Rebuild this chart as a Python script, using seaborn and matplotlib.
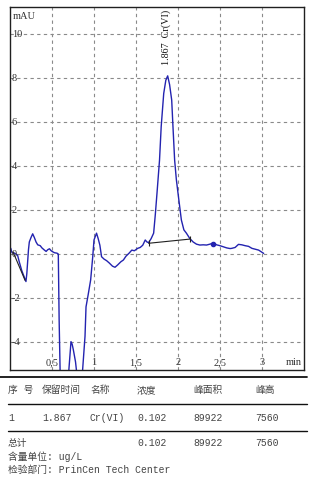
import numpy as np
import pandas as pd
import matplotlib
matplotlib.use("Agg")
import matplotlib.pyplot as plt
import matplotlib.transforms as mtransforms
from matplotlib.lines import Line2D
import seaborn as sns

# ---------------- data ----------------
time_min = [0.00, 0.01, 0.02, 0.03, 0.05, 0.07, 0.09, 0.11, 0.14, 0.17, 0.19, 0.20,
            0.22, 0.23, 0.25, 0.27, 0.29, 0.31, 0.33, 0.36, 0.38, 0.41, 0.43, 0.45,
            0.47, 0.49, 0.51, 0.53, 0.56, 0.575, 0.585, 0.60, 0.65, 0.69, 0.70, 0.726,
            0.74, 0.754, 0.78, 0.80, 0.83, 0.86, 0.893, 0.905, 0.93, 0.96, 0.985, 1.00,
            1.03, 1.05, 1.07, 1.09, 1.12, 1.15, 1.18, 1.22, 1.25, 1.28, 1.32, 1.35,
            1.38, 1.42, 1.45, 1.48, 1.52, 1.55, 1.58, 1.61, 1.63, 1.65, 1.68, 1.71,
            1.73, 1.75, 1.78, 1.80, 1.83, 1.855, 1.877, 1.90, 1.925, 1.94, 1.96, 1.98,
            2.00, 2.04, 2.07, 2.10, 2.14, 2.18, 2.22, 2.26, 2.30, 2.34, 2.38, 2.42,
            2.46, 2.50, 2.54, 2.58, 2.62, 2.64, 2.68, 2.72, 2.76, 2.80, 2.84, 2.88,
            2.92, 2.96, 3.00, 3.02]
signal_mau = [0.30, 0.25, 0.10, 0.05, 0.05, 0.00, -0.05, -0.35, -0.75, -1.05, -1.25, -0.90,
              0.20, 0.55, 0.75, 0.92, 0.75, 0.55, 0.42, 0.38, 0.28, 0.18, 0.12, 0.20,
              0.24, 0.15, 0.10, 0.06, 0.04, 0.00, -3.0, -6.0, -8.0, -6.0, -5.3, -3.98,
              -4.1, -4.35, -4.9, -5.6, -7.0, -5.5, -3.74, -2.4, -1.86, -1.18, -0.12, 0.64,
              0.95, 0.70, 0.40, -0.12, -0.23, -0.30, -0.40, -0.55, -0.60, -0.50, -0.35, -0.27,
              -0.10, 0.05, 0.18, 0.15, 0.26, 0.30, 0.40, 0.64, 0.55, 0.52, 0.70, 0.95,
              1.80, 2.77, 4.27, 5.80, 7.30, 7.90, 8.10, 7.70, 7.00, 5.80, 4.27, 3.40,
              2.77, 1.55, 1.10, 0.95, 0.71, 0.55, 0.45, 0.41, 0.42, 0.41, 0.45, 0.50,
              0.42, 0.38, 0.33, 0.28, 0.25, 0.26, 0.30, 0.44, 0.42, 0.38, 0.35, 0.26,
              0.22, 0.18, 0.08, 0.03]

baseline1_t = [0.036, 0.18]
baseline1_v = [0.10, -1.20]
baseline2_t = [1.65, 2.14]
baseline2_v = [0.49, 0.68]

peak_time = 1.857
peak_label_y = 8.6
peak_label = "1.867  Cr(VI)"

x_ticks = [0.5, 1.0, 1.5, 2.0, 2.5, 3.0]
x_tick_labels = ["0,5", "1", "1,5", "2", "2,5", "3"]
y_ticks = [-4, -2, 0, 2, 4, 6, 8, 10]
y_tick_labels = ["-4", "-2", "0", "2", "4", "6", "8", "10"]

table_headers = ["序 号", "保留时间", "名称", "浓度", "峰面积", "峰高"]
table_row = ["1", "1.867", "Cr(VI)", "0.102", "89922", "7560"]
table_total = ["总计", "", "", "0.102", "89922", "7560"]
unit_line = "含量单位: ug/L"
dept_line = "检验部门: PrinCen Tech Center"

# ---------------- figure ----------------
sns.set_theme(style="white")
plt.rcParams['font.family'] = ['Liberation Serif', 'DejaVu Serif']

W, H = 325, 484
fig = plt.figure(figsize=(W / 100, H / 100), dpi=100)
fig.patch.set_facecolor('white')

ax = fig.add_axes([10 / W, 1 - 370 / H, 294 / W, 363 / H])
ax.set_facecolor('white')

df = pd.DataFrame({"t": time_min, "v": signal_mau})
sns.lineplot(data=df, x="t", y="v", sort=False, estimator=None,
             color="#2323b0", linewidth=1.0, ax=ax)
ax.plot(baseline1_t, baseline1_v, color="#202020", linewidth=0.8)
ax.plot(baseline2_t, baseline2_v, color="#202020", linewidth=0.8,
        marker="|", markersize=4, markeredgewidth=0.8)
ax.plot([2.42], [0.48], marker="o", markersize=3, color="#2323b0")

ax.set_xlim(0, 3.5)
ax.set_ylim(-5.27, 11.23)
ax.set_xticks(x_ticks)
ax.set_yticks(y_ticks)
ax.tick_params(axis='x', length=0, labelbottom=False)
ax.tick_params(axis='y', length=2, direction='out', width=0.6,
               color='#404040', labelleft=False)
ax.grid(True, color="#8a8a8a", linestyle=(0, (3, 3)), linewidth=0.8)
ax.set_xlabel("")
ax.set_ylabel("")
for s in ax.spines.values():
    s.set_visible(True)
    s.set_color("#202020")
    s.set_linewidth(1.0)

lbl_font = dict(family=['Liberation Serif', 'DejaVu Serif'], fontsize=7.5, color="#333333")
ytrans = mtransforms.blended_transform_factory(ax.transAxes, ax.transData)
for yv, lab in zip(y_ticks, y_tick_labels):
    ax.text(0.006, yv, lab, transform=ytrans, ha='left', va='center', **lbl_font)
xtrans = mtransforms.blended_transform_factory(ax.transData, ax.transAxes)
for xv, lab in zip(x_ticks, x_tick_labels):
    ax.text(xv, 0.008, lab, transform=xtrans, ha='center', va='bottom', **lbl_font)
ax.text(0.992, 0.008, "min", transform=ax.transAxes, ha='right', va='bottom', **lbl_font)
ax.text(0.008, 0.985, "mAU", transform=ax.transAxes, ha='left', va='top', **lbl_font)

ax.text(peak_time, peak_label_y, peak_label, rotation=90, ha='center', va='bottom',
        family=['Liberation Serif', 'DejaVu Serif'], fontsize=7.3, color="#111111")

# ---------------- table ----------------
def fx(px):
    return px / W

def fy(py):
    return 1 - py / H

for (x0, y0, lw) in [(0, 377, 1.3), (8, 404, 1.0), (8, 431, 1.0)]:
    fig.add_artist(Line2D([fx(x0), fx(307)], [fy(y0), fy(y0)],
                          transform=fig.transFigure, color="#111111", linewidth=lw))

tfont = dict(family=['Liberation Mono', 'Noto Sans CJK SC'], fontsize=7, color="#444444")
col_x = [8, 42, 90, 137, 193, 255]
for cx, txt in zip(col_x, table_headers):
    fig.text(fx(cx), fy(390), txt, ha='left', va='center', **tfont)
for cx, txt in zip(col_x, table_row):
    fig.text(fx(cx), fy(418), txt, ha='left', va='center', **tfont)
for cx, txt in zip(col_x, table_total):
    if txt:
        fig.text(fx(cx), fy(443), txt, ha='left', va='center', **tfont)
fig.text(fx(8), fy(457), unit_line, ha='left', va='center', **tfont)
fig.text(fx(8), fy(470), dept_line, ha='left', va='center', **tfont)

fig.savefig("out.png", dpi=100, facecolor='white')
